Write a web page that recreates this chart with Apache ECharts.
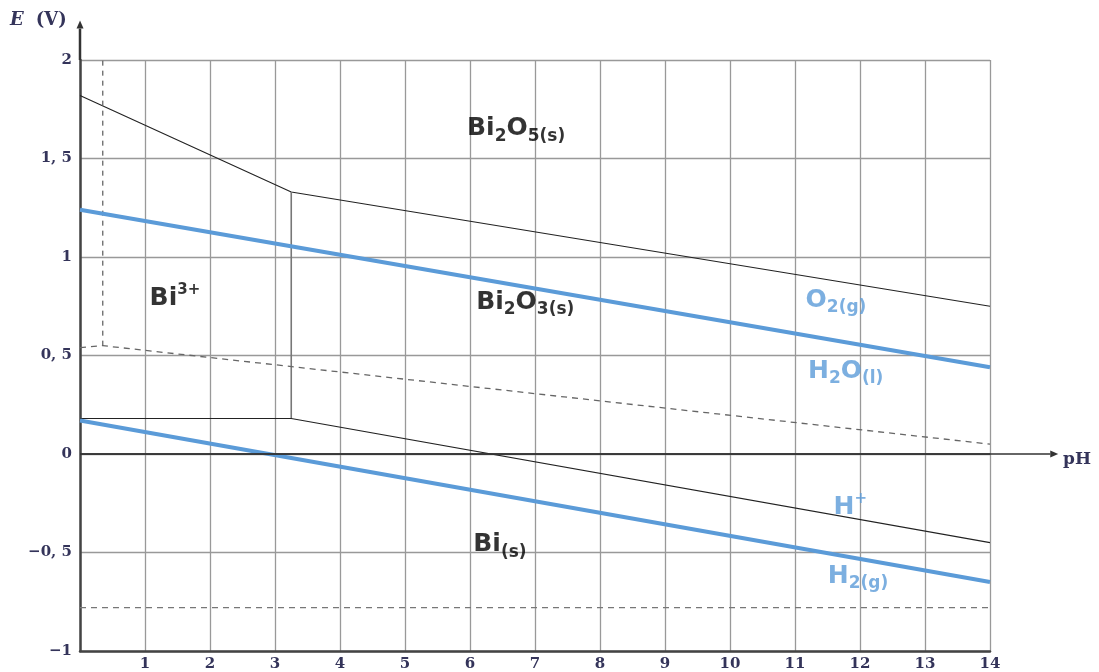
<!DOCTYPE html>
<html>
<head>
<meta charset="utf-8">
<script src="https://cdn.jsdelivr.net/npm/echarts@6/dist/echarts.min.js"></script>
<style>html,body{margin:0;padding:0;background:#fff;}#chart{width:1099px;height:672px;}</style>
</head>
<body>
<div id="chart"></div>
<script>
// ---- data (pH, E in V) ----
const xTicks = [1,2,3,4,5,6,7,8,9,10,11,12,13,14];
const yTicks = [-1,-0.5,0,0.5,1,1.5,2];
const boundaryBi2O5 = [[0,1.82],[3.25,1.33],[14,0.75]];
const boundaryBi3Bi2O3 = [[3.25,0.18],[3.25,1.33]];
const boundaryBi = [[0,0.18],[3.25,0.18],[14,-0.45]];
const waterO2 = [[0,1.24],[14,0.44]];
const waterH2 = [[0,0.17],[14,-0.65]];
const dashedVertical = [[0.35,0.55],[0.35,2]];
const dashedSlope = [[0,0.54],[0.35,0.55],[14,0.05]];
const dashedFlat = [[0,-0.78],[14,-0.78]];
const pHAxisLine = [[0,0],[14,0]];
// axis arrows: [x0, y0, x1, y1]
const axisArrows = [[0,0,15.05,0],[0,2,0,2.2]];
const speciesLabels = [
  {name:'{m|Bi}{s|2}{m|O}{s|5(s)}', pos:[6.71,1.65], blue:false},
  {name:'{m|Bi}{p|3+}', pos:[1.46,0.79], blue:false},
  {name:'{m|Bi}{s|2}{m|O}{s|3(s)}', pos:[6.85,0.77], blue:false},
  {name:'{m|Bi}{s|(s)}', pos:[6.46,-0.46], blue:false},
  {name:'{m|O}{s|2(g)}', pos:[11.63,0.78], blue:true},
  {name:'{m|H}{s|2}{m|O}{s|(l)}', pos:[11.78,0.42], blue:true},
  {name:'{m|H}{p|+}', pos:[11.85,-0.27], blue:true},
  {name:'{m|H}{s|2(g)}', pos:[11.97,-0.62], blue:true}
];

const BLUE = '#5b9bd8';
const AXTXT = '#34345a';
const chart = echarts.init(document.getElementById('chart'));
function richFor(color){
  return {
    m:{fontFamily:'DejaVu Sans',fontWeight:'bold',fontSize:25,color:color,lineHeight:32,verticalAlign:'middle'},
    s:{fontFamily:'DejaVu Sans',fontWeight:'bold',fontSize:17,color:color,verticalAlign:'bottom',lineHeight:30},
    p:{fontFamily:'DejaVu Sans',fontWeight:'bold',fontSize:15,color:color,verticalAlign:'top',lineHeight:22}
  };
}
function fmtNum(v){ return String(v).replace('.',', ').replace('-','\u2212'); }
function line(data, color, width, type){
  return {type:'line', data:data, showSymbol:false, symbol:'none', silent:true,
    lineStyle:{color:color,width:width,type:type||'solid'}, z:3, animation:false};
}
const series = [
  line(boundaryBi2O5,'#222',1.1),
  line(boundaryBi3Bi2O3,'#777',1.6),
  line(boundaryBi,'#222',1.1),
  line(dashedVertical,'#666',1.3,[5,5]),
  line(dashedSlope,'#666',1.3,[6,5]),
  line(dashedFlat,'#777',1.3,[6,5]),
  line(waterO2,BLUE,4),
  line(waterH2,BLUE,4),
  line(pHAxisLine,'#333',1.6),
  {type:'custom', clip:false, silent:true, animation:false, z:6,
   encode:{x:[0,2], y:[1,3]},
   data:axisArrows,
   renderItem:function(params, api){
     const p0 = api.coord([api.value(0), api.value(1)]);
     const p1 = api.coord([api.value(2), api.value(3)]);
     const dx = p1[0]-p0[0], dy = p1[1]-p0[1];
     const len = Math.sqrt(dx*dx+dy*dy) || 1;
     const ux = dx/len, uy = dy/len;
     const L = 8, W = 3.5;
     const bx = p1[0]-ux*L, by = p1[1]-uy*L;
     const vertical = Math.abs(uy) > 0.5;
     return {type:'group', children:[
       {type:'line', shape:{x1:p0[0],y1:p0[1],x2:bx,y2:by},
        style:{stroke:'#333',lineWidth: vertical?2.5:1.6}},
       {type:'polygon', shape:{points:[[p1[0],p1[1]],[bx-uy*W,by+ux*W],[bx+uy*W,by-ux*W]]},
        style:{fill:'#333'}}
     ]};
   }},
  {type:'scatter', symbolSize:0, silent:true, animation:false, z:5,
   data: speciesLabels.map(d=>({value:d.pos,
     label:{show:true,position:'inside',formatter:d.name,rich:richFor(d.blue?BLUE:'#000')}}))}
];
chart.setOption({
  animation:false,
  grid:{left:80,right:109,top:60,bottom:19,containLabel:false},
  xAxis:{type:'value',min:0,max:14,interval:1,
    axisLine:{show:true,onZero:false,lineStyle:{color:'#444',width:2.5}},
    axisTick:{show:false},
    splitLine:{show:true,lineStyle:{color:'#999',width:1.3}},
    axisLabel:{margin:6,fontFamily:'DejaVu Serif',fontWeight:'bold',fontSize:15,color:AXTXT,
      formatter:v=>xTicks.indexOf(v)>=0?String(v):''}},
  yAxis:{type:'value',min:-1,max:2,interval:0.5,
    axisLine:{show:true,onZero:false,lineStyle:{color:'#444',width:2.5}},
    axisTick:{show:false},
    splitLine:{show:true,lineStyle:{color:'#999',width:1.3}},
    axisLabel:{margin:8,fontFamily:'DejaVu Serif',fontWeight:'bold',fontSize:15,color:AXTXT,
      formatter:v=>yTicks.indexOf(v)>=0?fmtNum(v):''}},
  graphic:[
    {type:'text',left:10,top:11,style:{text:'{i|E}{g| }{n|(V)}',rich:{
      i:{fontFamily:'DejaVu Serif',fontStyle:'italic',fontWeight:'bold',fontSize:18,fill:AXTXT},
      g:{fontSize:18,width:12},
      n:{fontFamily:'DejaVu Serif',fontWeight:'bold',fontSize:18,fill:AXTXT}}}},
    {type:'text',left:1063,top:451,style:{text:'pH',fontFamily:'DejaVu Serif',fontWeight:'bold',fontSize:17,fill:AXTXT}}
  ],
  series:series
});
</script>
</body>
</html>
